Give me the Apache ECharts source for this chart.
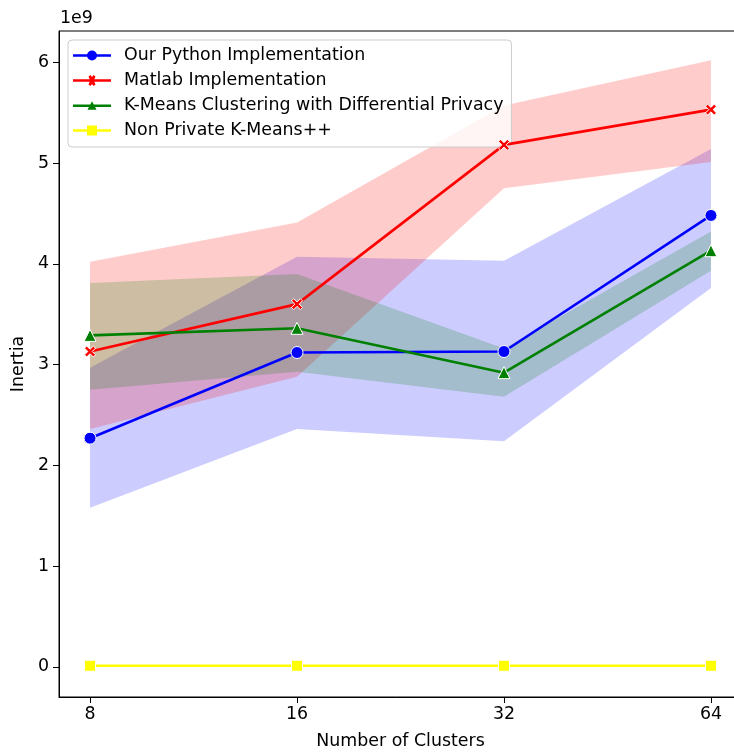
<!DOCTYPE html>
<html><head><meta charset="utf-8">
<script src="https://cdn.jsdelivr.net/npm/echarts@6/dist/echarts.min.js"></script>
<style>html,body{margin:0;padding:0;background:#fff}#c{width:734px;height:752px}</style>
</head><body><div id="c"></div>
<script>
// Data (values in units of 1e9)
const categories = ['8', '16', '32', '64'];
const pythonMean = [2.27, 3.12, 3.13, 4.48];
const pythonLow  = [1.58, 2.36, 2.24, 3.76];
const pythonHigh = [2.97, 4.07, 4.03, 5.14];
const matlabMean = [3.13, 3.60, 5.18, 5.53];
const matlabLow  = [2.36, 2.88, 4.75, 5.01];
const matlabHigh = [4.02, 4.41, 5.57, 6.02];
const dpMean = [3.29, 3.36, 2.92, 4.13];
const dpLow  = [2.75, 2.93, 2.68, 3.93];
const dpHigh = [3.81, 3.90, 3.16, 4.32];
const nonPrivMean = [0.012, 0.012, 0.012, 0.012];
const yTicks = [0, 1, 2, 3, 4, 5, 6];
const seriesNames = ['Our Python Implementation', 'Matlab Implementation', 'K-Means Clustering with Differential Privacy', 'Non Private K-Means++'];

const FONT = 'DejaVu Sans';
const FS = 17.4;
const xIdx = categories.map((_, i) => i);
const pts = arr => arr.map((v, i) => [i, v]);

function band(low, high, color) {
  return {
    type: 'custom', silent: true, z: 1,
    data: [[0, low[0]]],
    renderItem: function (params, api) {
      const top = high.map((v, i) => api.coord([i, v]));
      const bot = low.map((v, i) => api.coord([i, v])).reverse();
      return { type: 'polygon', shape: { points: top.concat(bot) }, style: { fill: color } };
    }
  };
}
const xPath = 'path://M2,0 L5,3 L8,0 L10,2 L7,5 L10,8 L8,10 L5,7 L2,10 L0,8 L3,5 L0,2 Z';
function line(name, data, color, symbol, size) {
  return { type: 'line', name: name, data: pts(data), symbol: symbol, symbolSize: size,
    lineStyle: { color: color, width: 2.6 }, itemStyle: { color: color, borderColor: '#fff', borderWidth: 1 },
    z: 5 };
}

const legendIcons = [
  'path://M0,4.8 L38,4.8 L38,7.2 L0,7.2 Z M19,1 A5,5 0 1,1 19,11 A5,5 0 1,1 19,1 Z',
  'path://M0,4.8 L38,4.8 L38,7.2 L0,7.2 Z M15.5,2 L17.5,0.5 L19,2.5 L20.5,0.5 L22.5,2 L20.8,6 L22.5,10 L20.5,11.5 L19,9.5 L17.5,11.5 L15.5,10 L17.2,6 Z',
  'path://M0,4.8 L38,4.8 L38,7.2 L0,7.2 Z M19,1.5 L23.5,10 L14.5,10 Z',
  'path://M0,4.8 L38,4.8 L38,7.2 L0,7.2 Z M14,1 L24,1 L24,11 L14,11 Z'
];
const chart = echarts.init(document.getElementById('c'), null, { renderer: 'canvas' });
chart.setOption({
  animation: false,
  backgroundColor: '#fff',
  grid: { left: 59, width: 683, top: 31, height: 666, outerBoundsMode: 'none', containLabel: false,
    show: true, borderColor: '#000', borderWidth: 1, backgroundColor: 'transparent' },
  xAxis: {
    type: 'value', min: -0.15, max: 3.15,
    name: 'Number of Clusters', nameLocation: 'middle', nameGap: 36,
    nameTextStyle: { fontFamily: FONT, fontSize: FS, color: '#000' },
    axisLine: { show: true, onZero: false, lineStyle: { color: '#000', width: 1 } },
    axisTick: { show: true, length: 6, customValues: xIdx, lineStyle: { color: '#000' } },
    axisLabel: { customValues: xIdx, fontFamily: FONT, fontSize: FS, color: '#000', margin: 9,
      formatter: v => categories[Math.round(v)] },
    splitLine: { show: false }
  },
  yAxis: {
    type: 'value', min: -0.298, max: 6.31,
    name: 'Inertia', nameLocation: 'middle', nameGap: 28, nameRotate: 90,
    nameTextStyle: { fontFamily: FONT, fontSize: FS, color: '#000' },
    axisLine: { show: true, onZero: false, lineStyle: { color: '#000', width: 1 } },
    axisTick: { show: true, length: 6, customValues: yTicks, lineStyle: { color: '#000' } },
    axisLabel: { customValues: yTicks, fontFamily: FONT, fontSize: FS, color: '#000', margin: 10,
      formatter: v => String(Math.round(v)) },
    splitLine: { show: false }
  },
  legend: {
    orient: 'vertical', left: 68, top: 40,
    data: seriesNames.map((n, i) => ({ name: n, icon: legendIcons[i] })),
    itemWidth: 38, itemHeight: 12, itemGap: 8,
    padding: [7, 8, 8, 5],
    backgroundColor: 'rgba(255,255,255,0.8)', borderColor: '#cccccc', borderWidth: 1, borderRadius: 4,
    textStyle: { fontFamily: FONT, fontSize: FS, color: '#000', lineHeight: 17, padding: [0, 0, 0, 8] },
    itemStyle: { borderWidth: 0 },
    lineStyle: { width: 0 }
  },
  graphic: [{ type: 'text', left: 60, top: 10, style: { text: '1e9', font: FS + 'px "DejaVu Sans"', fill: '#000' } }],
  series: [
    band(pythonLow, pythonHigh, 'rgba(0,0,255,0.2)'),
    band(matlabLow, matlabHigh, 'rgba(255,0,0,0.2)'),
    band(dpLow, dpHigh, 'rgba(0,128,0,0.2)'),
    line(seriesNames[0], pythonMean, '#0000ff', 'circle', 12),
    line(seriesNames[1], matlabMean, '#ff0000', xPath, 11),
    line(seriesNames[2], dpMean, '#008000', 'triangle', 12),
    line(seriesNames[3], nonPrivMean, '#ffff00', 'rect', 11)
  ]
});
</script></body></html>
